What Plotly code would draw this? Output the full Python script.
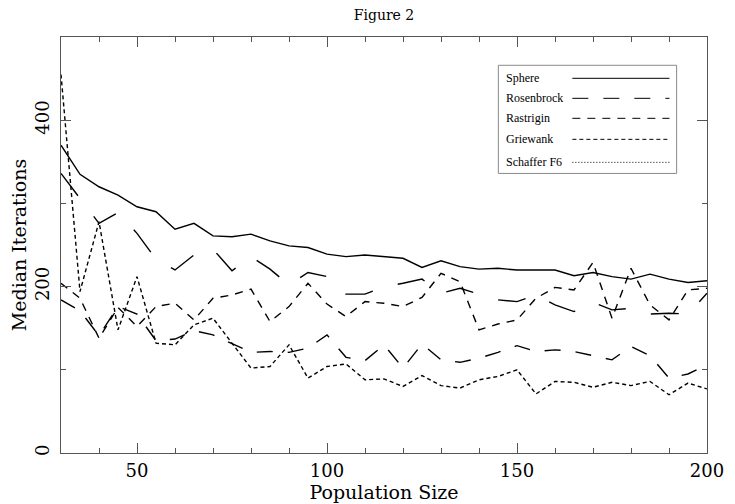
import plotly.graph_objects as go

pop_size = [30, 35, 40, 45, 50, 55, 60, 65, 70, 75, 80, 85, 90, 95, 100, 105, 110, 115,
            120, 125, 130, 135, 140, 145, 150, 155, 160, 165, 170, 175, 180, 185, 190, 195, 200]

sphere = [370, 335, 320, 310, 296, 290, 269, 276, 261, 260, 263, 255, 249, 247, 239, 236, 238, 236,
          234, 223, 231, 224, 221, 222, 220, 220, 220, 213, 217, 212, 209, 215, 209, 205, 207]
rosenbrock = [336, 306, 276, 289, 264, 233, 220, 238, 245, 219, 236, 221, 202, 217, 212, 191, 191, 200,
              204, 209, 192, 198, 191, 184, 182, 190, 178, 170, 181, 172, 174, 167, 168, 167, 192]
rastrigin = [184, 171, 141, 176, 167, 135, 137, 147, 142, 131, 121, 122, 121, 126, 142, 115, 111, 130,
             102, 131, 112, 109, 114, 121, 129, 122, 124, 122, 117, 112, 128, 117, 90, 95, 106]
griewank = [204, 186, 138, 175, 152, 176, 180, 160, 186, 190, 197, 158, 176, 204, 179, 164, 182, 180,
            176, 187, 216, 206, 148, 155, 160, 186, 199, 196, 229, 162, 222, 178, 160, 196, 198]
schaffer = [455, 194, 278, 148, 212, 132, 130, 154, 162, 132, 102, 104, 130, 90, 104, 107, 88, 89,
            80, 93, 81, 78, 88, 92, 100, 71, 86, 85, 79, 85, 81, 86, 70, 84, 77]

names = ["Sphere", "Rosenbrock", "Rastrigin", "Griewank", "Schaffer F6"]
series = [sphere, rosenbrock, rastrigin, griewank, schaffer]
plot_dash = ["solid", "28px,26px", "16px,15px", "8px,7px", "4px,3px"]
legend_dash = ["solid", "16px,15px", "8px,7px", "4px,3px", "1px,2px"]

fig = go.Figure()
for name, vals, dash in zip(names, series, plot_dash):
    fig.add_trace(go.Scatter(x=pop_size, y=vals, mode="lines", name=name,
                             line=dict(color="black", width=1.4, dash=dash),
                             showlegend=False))

# custom legend box (text left, sample line right)
shapes = [dict(type="rect", xref="paper", yref="paper", x0=0.677, x1=0.953, y0=0.672, y1=0.932,
               line=dict(color="#8a8a8a", width=1), fillcolor="white", layer="above")]
annotations = []
leg_y = [0.9007, 0.8526, 0.8045, 0.7540, 0.6987]
for name, dash, yy in zip(names, legend_dash, leg_y):
    shapes.append(dict(type="line", xref="paper", yref="paper", x0=0.7916, x1=0.9419, y0=yy, y1=yy,
                       line=dict(color="black", width=1, dash=dash), layer="above"))
    annotations.append(dict(xref="paper", yref="paper", x=0.6863, y=yy, text=name, showarrow=False,
                            xanchor="left", yanchor="middle",
                            font=dict(family="Liberation Serif", size=12, color="black")))

axis_font = dict(family="DejaVu Serif", size=18, color="black")
title_font = dict(family="DejaVu Serif", size=19, color="black")
fig.update_layout(
    width=735, height=504,
    margin=dict(l=61, r=28, t=37, b=51),
    paper_bgcolor="white", plot_bgcolor="white",
    title=dict(text="Figure 2", x=0.5, xref="paper", y=0.970, yref="container", yanchor="middle",
               xanchor="center", font=dict(family="DejaVu Serif", size=14, color="black")),
    shapes=shapes, annotations=annotations,
    xaxis=dict(range=[30, 200], tickvals=[50, 100, 150, 200], ticks="inside", ticklen=10,
               tickcolor="#555", linecolor="#555", linewidth=1, mirror="ticks", showgrid=False,
               zeroline=False, tickfont=axis_font, ticklabelstandoff=1, automargin=False,
               minor=dict(dtick=10, tick0=0, ticks="inside", ticklen=5, tickcolor="#555"),
               title=dict(text="Population Size", font=title_font, standoff=2)),
    yaxis=dict(range=[0, 500], tickvals=[0, 200, 400], ticks="inside", ticklen=10,
               tickcolor="#555", linecolor="#555", linewidth=1, mirror="ticks", showgrid=False,
               zeroline=False, tickfont=axis_font, tickangle=-90, ticklabelstandoff=4, automargin=False,
               minor=dict(dtick=100, tick0=0, ticks="inside", ticklen=5, tickcolor="#555"),
               title=dict(text="Median Iterations", font=title_font, standoff=0)),
)

fig.write_html("out.html", config={"displayModeBar": False},
               post_script="document.body.style.margin='0';document.body.style.overflow='hidden';")
